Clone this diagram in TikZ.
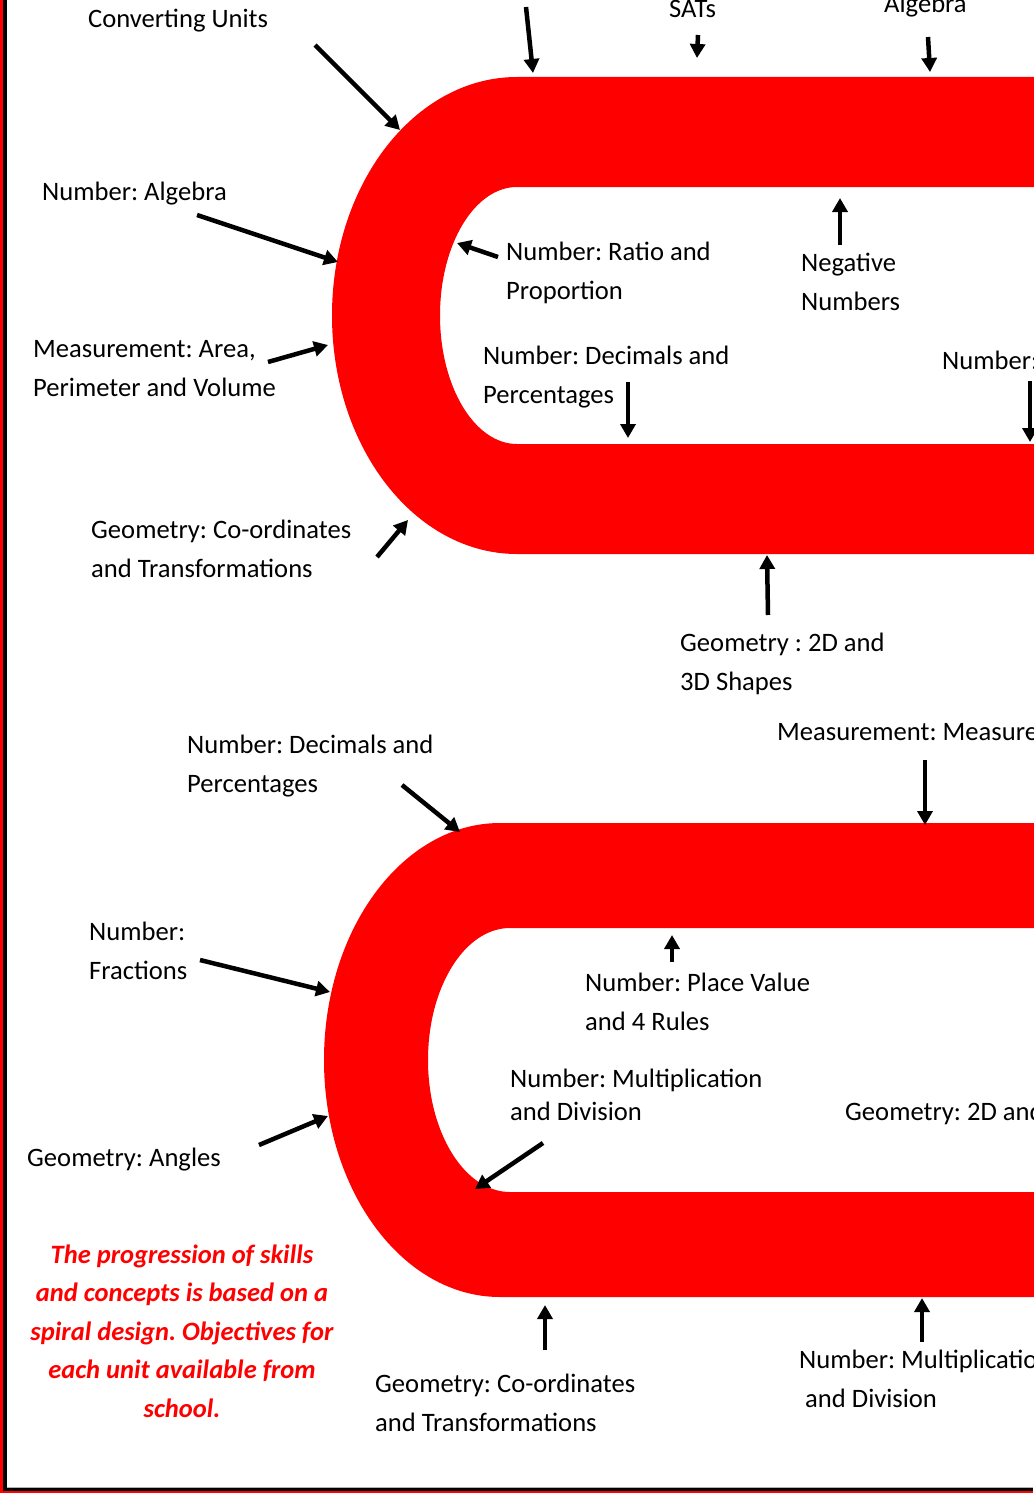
\documentclass[tikz,border=0pt]{standalone}
\usepackage{fontspec}
\setmainfont{Carlito}
\usetikzlibrary{arrows.meta}
\frenchspacing

\begin{document}
\begin{tikzpicture}[x=1pt,y=1pt,
  arr/.style={line width=4.5pt,-{Triangle[length=14pt,width=15pt]}},
  lbl/.style={anchor=base west,inner sep=0pt,align=left,font=\fontsize{26.6}{38.7}\selectfont},
  note/.style={anchor=base,inner sep=0pt,align=center,text=red,font=\fontsize{26.5}{38.5}\selectfont\bfseries\itshape}]
  \useasboundingbox (0,0) rectangle (1033,-1493);
  % page border
  \fill[red] (0,0) rectangle (3,-1493);
  \fill[red] (0,-1490.5) rectangle (1033,-1493);
  \fill[black] (3.3,0) rectangle (6.5,-1490.5);
  \fill[black] (3.3,-1487.5) rectangle (1033,-1490.5);
  \draw[gray!60,line width=1pt] (6.5,-1487) -- (1033,-1487);
  % upper band
  \fill[red,even odd rule] (1040,-77) -- (517,-77)
    arc[start angle=90,end angle=270,x radius=185,y radius=238.5] -- (1040,-554) -- cycle
    (1040,-187) -- (517,-187)
    arc[start angle=90,end angle=270,x radius=77,y radius=128.5] -- (1040,-444) -- cycle;
  % lower band
  \fill[red,even odd rule] (1040,-823) -- (500,-823)
    arc[start angle=90,end angle=270,x radius=176,y radius=237] -- (1040,-1297) -- cycle
    (1040,-928) -- (510,-928)
    arc[start angle=90,end angle=270,x radius=82,y radius=132] -- (1040,-1192) -- cycle;
  % labels, upper part (multi-line ones sit on their last line)
  \node[lbl] (conv) at (88,-28) {Converting Units};
  \node[lbl] (sats) at (669,-18) {SATs};
  \node[lbl] (alg) at (884,-12.5) {Algebra};
  \node[lbl] (numalg) at (42,-200) {Number: Algebra};
  \node[lbl] (ratio) at (506,-299) {Number: Ratio and\\Proportion};
  \node[lbl] (neg) at (801,-310) {Negative\\Numbers};
  \node[lbl] (area) at (33,-396) {Measurement: Area,\\Perimeter and Volume};
  \node[lbl] (decpct) at (483,-403) {Number: Decimals and\\Percentages};
  \node[lbl] (numr) at (942,-369) {Number:};
  \node[lbl] (coord) at (91,-577) {Geometry: Co-ordinates\\and Transformations};
  \node[lbl] (shapes) at (680,-690) {Geometry : 2D and\\3D Shapes};
  % labels, lower part
  \node[lbl] (decpcttwo) at (187,-792) {Number: Decimals and\\Percentages};
  \node[lbl] (measure) at (777,-740) {Measurement: Measure};
  \node[lbl] (frac) at (89,-979) {Number:\\Fractions};
  \node[lbl] (place) at (585,-1030.5) {Number: Place Value\\and 4 Rules};
  \node[lbl,font=\fontsize{26.6}{33}\selectfont] (multdiv) at (510,-1120.5) {Number: Multiplication\\and Division};
  \node[lbl] (geomtwo) at (845,-1120) {Geometry: 2D and};
  \node[lbl] (angles) at (27,-1166) {Geometry: Angles};
  \node[lbl] (coordtwo) at (375,-1431) {Geometry: Co-ordinates\\and Transformations};
  \node[lbl] (multr) at (799,-1407) {Number: Multiplicatio\\\hspace*{6pt}and Division};
  \node[note] (spiral) at (182,-1417) {The progression of skills\\and concepts is based on a\\spiral design. Objectives for\\each unit available from\\school.};
  % arrows, upper part
  \draw[arr] (315,-45) -- (400,-130);
  \draw[arr] (526,-7) -- (533,-73);
  \draw[arr] (698,-35) -- (697,-58);
  \draw[arr] (928,-37) -- (930,-72);
  \draw[arr] (197,-215) -- (338,-262);
  \draw[arr] (268,-362) -- (328,-345);
  \draw[arr] (377,-557) -- (408,-520);
  \draw[arr] (498,-257) -- (457,-243);
  \draw[arr] (840,-245) -- (840,-198);
  \draw[arr] (628,-382) -- (628,-438);
  \draw[arr] (1030,-381) -- (1030,-442);
  \draw[arr] (768,-615) -- (767,-555);
  % arrows, lower part
  \draw[arr] (402,-785) -- (460,-832);
  \draw[arr] (200,-960) -- (330,-992);
  \draw[arr] (259,-1145) -- (328,-1116);
  \draw[arr] (543,-1143) -- (475,-1189);
  \draw[arr] (925,-760) -- (925,-825);
  \draw[arr] (672,-962) -- (672,-935);
  \draw[arr] (545,-1350) -- (545,-1305);
  \draw[arr] (922,-1342) -- (922,-1298);
\end{tikzpicture}
\end{document}
